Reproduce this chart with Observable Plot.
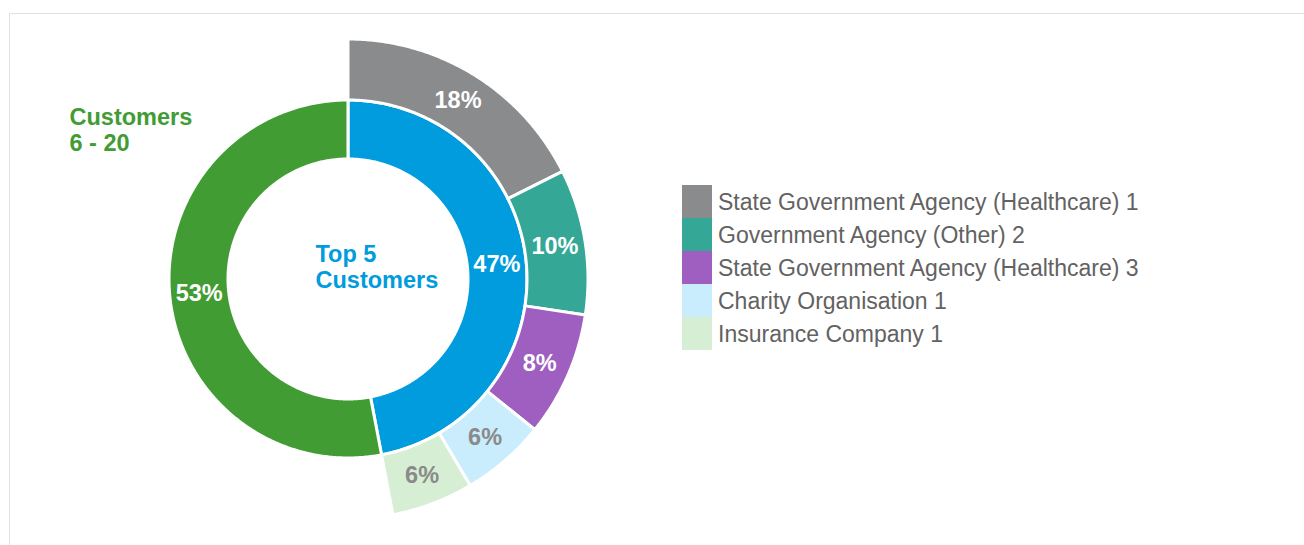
<!DOCTYPE html>
<html>
<head>
<meta charset="utf-8">
<script src="https://cdn.jsdelivr.net/npm/d3@7"></script>
<script src="https://cdn.jsdelivr.net/npm/@observablehq/plot@0.6"></script>
<style>
  html, body { margin: 0; padding: 0; background: #fff; width: 1304px; height: 545px; overflow: hidden;
    font-family: Arial, "Liberation Sans", sans-serif; }
  #frame { position: absolute; left: 9px; top: 13px; width: 1320px; height: 560px;
    border: 1.5px solid #e2e2e2; box-sizing: border-box; }
  #chart { position: absolute; left: 0; top: 0; }
  #legend { position: absolute; left: 682px; top: 185px; }
  .item { display: flex; align-items: center; height: 33px; }
  .sw { width: 30px; height: 33px; margin-right: 6px; flex: none; }
  .lab { font-size: 23px; color: #626262; white-space: nowrap; position: relative; top: 1px; }
</style>
</head>
<body>
<div id="frame"></div>
<div id="chart"></div>
<div id="legend"></div>
<script>
// ---- data ----
const topCustomers = [
  "State Government Agency (Healthcare) 1",
  "Government Agency (Other) 2",
  "State Government Agency (Healthcare) 3",
  "Charity Organisation 1",
  "Insurance Company 1"
];
const topShares = [17.6, 9.8, 8.4, 5.7, 5.5];       // % of revenue, outer ring
const topLabels = ["18%", "10%", "8%", "6%", "6%"];
const groups = ["Top 5 Customers", "Customers 6 - 20"];
const groupShares = [47, 53];                         // % of revenue, inner ring
const groupLabels = ["47%", "53%"];

// ---- styles ----
const topColors = ["#898b8d", "#35a796", "#9e5fc0", "#c9edfc", "#d6efd4"];
const topLabelColors = ["#ffffff", "#ffffff", "#ffffff", "#8a8a8a", "#8a8a8a"];
const groupColors = ["#009cdd", "#429c34"];
const W = 1304, H = 545, CX = 347.5, CY = 278.5;
const rIn0 = 120, rIn1 = 179, rOut0 = 179, rOut1 = 240;

// ---- geometry built from the shares ----
function ring(shares, names, r0, r1, colors, labels, labelColors) {
  const total = 100;
  let acc = 0;
  const polys = [], texts = [];
  shares.forEach((v, i) => {
    const a0 = acc / total * 360, a1 = (acc + v) / total * 360;
    acc += v;
    const n = Math.max(2, Math.ceil((a1 - a0) / 0.5));
    const pts = [];
    for (let k = 0; k <= n; k++) {
      const a = (a0 + (a1 - a0) * k / n) * Math.PI / 180;
      pts.push({id: names[i], fill: colors[i], x: r1 * Math.sin(a), y: r1 * Math.cos(a)});
    }
    for (let k = n; k >= 0; k--) {
      const a = (a0 + (a1 - a0) * k / n) * Math.PI / 180;
      pts.push({id: names[i], fill: colors[i], x: r0 * Math.sin(a), y: r0 * Math.cos(a)});
    }
    polys.push(...pts);
    const am = (a0 + a1) / 2 * Math.PI / 180, rm = (r0 + r1) / 2;
    texts.push({text: labels[i], color: labelColors[i], x: rm * Math.sin(am), y: rm * Math.cos(am)});
  });
  return {polys, texts};
}

const inner = ring(groupShares, groups, rIn0, rIn1, groupColors, groupLabels, ["#ffffff", "#ffffff"]);
const outer = ring(topShares, topCustomers, rOut0, rOut1, topColors, topLabels, topLabelColors);

const groupTitles = [
  {text: "Top 5\nCustomers", color: groupColors[0], x: 315 - CX, y: CY - 242},
  {text: "Customers\n6 - 20", color: groupColors[1], x: 69 - CX, y: CY - 105}
];

const chart = Plot.plot({
  width: W, height: H,
  margin: 0,
  x: {domain: [-CX, W - CX], axis: null},
  y: {domain: [-(H - CY), CY], axis: null},
  color: {type: "identity"},
  style: {fontFamily: "Arial, 'Liberation Sans', sans-serif", background: "transparent"},
  marks: [
    Plot.line(inner.polys, {x: "x", y: "y", z: "id", fill: "fill", stroke: "white", strokeWidth: 3, curve: "linear-closed"}),
    Plot.line(outer.polys, {x: "x", y: "y", z: "id", fill: "fill", stroke: "white", strokeWidth: 3, curve: "linear-closed"}),
    Plot.text([...inner.texts, ...outer.texts], {x: "x", y: "y", text: "text", fill: "color",
      fontSize: 23.5, fontWeight: "bold", textAnchor: "middle", lineAnchor: "middle"}),
    Plot.text(groupTitles, {x: "x", y: "y", text: "text", fill: "color", fontSize: 23.5, fontWeight: "bold",
      textAnchor: "start", lineAnchor: "top", lineHeight: 1.14})
  ]
});
document.getElementById("chart").appendChild(chart);

// ---- legend ----
const legend = document.getElementById("legend");
topCustomers.forEach((name, i) => {
  const item = document.createElement("div");
  item.className = "item";
  const sw = document.createElement("div");
  sw.className = "sw";
  sw.style.background = topColors[i];
  const lab = document.createElement("span");
  lab.className = "lab";
  lab.textContent = name;
  item.appendChild(sw);
  item.appendChild(lab);
  legend.appendChild(item);
});
</script>
</body>
</html>
